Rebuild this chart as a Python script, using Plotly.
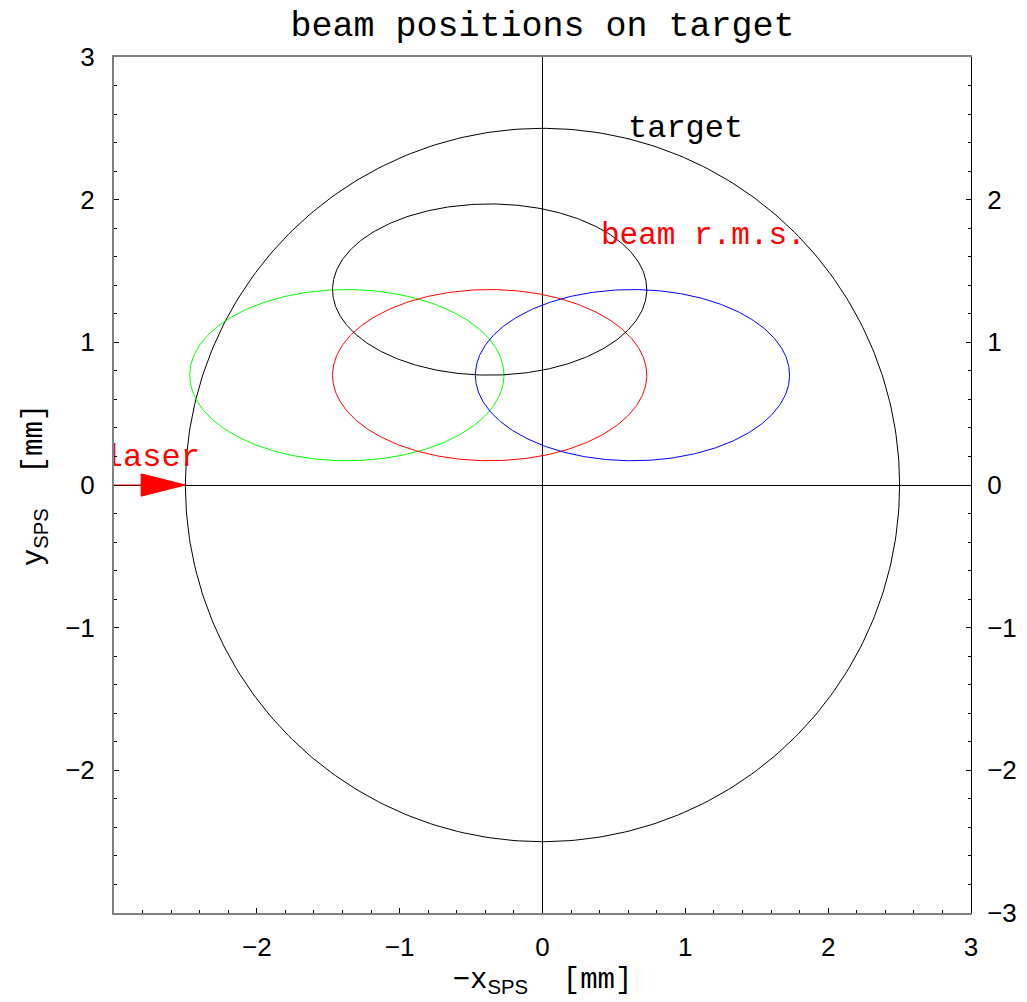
import numpy as np
import plotly.graph_objects as go

# ---- data ----
target_center = (0.0, 0.0)
target_radius = 2.5

beam_names = ["green", "red", "blue", "black"]
beam_cx = [-1.37, -0.37, 0.63, -0.37]
beam_cy = [0.77, 0.77, 0.77, 1.37]
beam_a = [1.1, 1.1, 1.1, 1.1]
beam_b = [0.6, 0.6, 0.6, 0.6]
beam_colors = ["#00ff00", "#ff0000", "#0000ff", "#000000"]

laser_tip = (-2.5, 0.0)
laser_start_x = -3.0
laser_head_len = 0.31
laser_head_half = 0.078

left_ticks = [3, 2, 1, 0, -1, -2]
right_ticks = [2, 1, 0, -1, -2, -3]
bottom_ticks = [-2, -1, 0, 1, 2, 3]

labels = [("target", 1.0, 2.5, "black", 32),
          ("beam r.m.s.", 1.13, 1.75, "red", 31)]
laser_label = ("laser", -2.735, 0.19)

def lab(v):
    return ("\u2212" + str(-v)) if v < 0 else str(v)

t = np.linspace(0, 2 * np.pi, 400)

fig = go.Figure()

# target circle
fig.add_trace(go.Scatter(
    x=target_center[0] + target_radius * np.cos(t),
    y=target_center[1] + target_radius * np.sin(t),
    mode="lines", line=dict(color="black", width=1), hoverinfo="skip"))

for cx, cy, a, b, c in zip(beam_cx, beam_cy, beam_a, beam_b, beam_colors):
    fig.add_trace(go.Scatter(
        x=cx + a * np.cos(t), y=cy + b * np.sin(t),
        mode="lines", line=dict(color=c, width=1), hoverinfo="skip"))

# laser line + head
fig.add_trace(go.Scatter(
    x=[laser_start_x, laser_tip[0]], y=[laser_tip[1], laser_tip[1]],
    mode="lines", line=dict(color="red", width=1), hoverinfo="skip"))
hx = laser_tip[0] - laser_head_len
fig.add_trace(go.Scatter(
    x=[hx, laser_tip[0], hx, hx],
    y=[laser_tip[1] + laser_head_half, laser_tip[1], laser_tip[1] - laser_head_half, laser_tip[1] + laser_head_half],
    mode="lines", fill="toself", fillcolor="red", line=dict(color="red", width=1),
    hoverinfo="skip"))

# laser text (clipped at plot area)
fig.add_trace(go.Scatter(
    x=[laser_label[1]], y=[laser_label[2]], mode="text", text=[laser_label[0]],
    textfont=dict(family="Liberation Mono", size=32, color="red"),
    cliponaxis=True, hoverinfo="skip"))

for txt, x, y, c, s in labels:
    fig.add_annotation(x=x, y=y, text=txt, showarrow=False,
                       font=dict(family="Liberation Mono", size=s, color=c),
                       xanchor="center", yanchor="middle")

tickfont = dict(family="Liberation Sans", size=26, color="black")
sub = "<sub><span style=\"font-family:'Liberation Sans'\">SPS</span></sub>"

fig.update_layout(
    width=1027, height=1002,
    margin=dict(l=114, r=56, t=57, b=89, autoexpand=False),
    plot_bgcolor="white", paper_bgcolor="white",
    showlegend=False,
    title=dict(text="beam positions on target", x=0.5, xref="paper", xanchor="center",
               y=1 - 24 / 1002, yref="container", yanchor="middle",
               font=dict(family="Liberation Mono", size=35, color="black")),
    xaxis=dict(range=[-3, 3], showgrid=False, zeroline=True, zerolinecolor="black",
               zerolinewidth=1, showline=True, linecolor="#808080", linewidth=2,
               mirror=True, ticks="inside", ticklen=5, tickcolor="black",
               tickvals=bottom_ticks, ticktext=[lab(v) for v in bottom_ticks],
               tickfont=tickfont, ticklabelstandoff=10, automargin=False,
               minor=dict(ticks="inside", ticklen=3, dtick=0.2, tickcolor="black", showgrid=False),
               title=dict(text="\u2212x" + sub + "  [mm]",
                          font=dict(family="Liberation Mono", size=29, color="black"), standoff=6)),
    yaxis=dict(range=[-3, 3], showgrid=False, zeroline=True, zerolinecolor="black",
               zerolinewidth=1, showline=True, linecolor="#808080", linewidth=2,
               ticks="inside", ticklen=5, tickcolor="black",
               tickvals=left_ticks, ticktext=[lab(v) for v in left_ticks],
               tickfont=tickfont, ticklabelstandoff=12, automargin=False,
               minor=dict(ticks="inside", ticklen=3, dtick=0.2, tickcolor="black", showgrid=False),
               title=dict(text="y" + sub + "  [mm]",
                          font=dict(family="Liberation Mono", size=29, color="black"), standoff=14)),
    yaxis2=dict(range=[-3, 3], overlaying="y", side="right", showgrid=False, zeroline=False,
                showline=True, linecolor="black", linewidth=1,
                ticks="inside", ticklen=5, tickcolor="black",
                tickvals=right_ticks, ticktext=[lab(v) for v in right_ticks],
                tickfont=tickfont, ticklabelstandoff=10, automargin=False,
                minor=dict(ticks="inside", ticklen=3, dtick=0.2, tickcolor="black", showgrid=False)),
)

# dummy trace to activate yaxis2
fig.add_trace(go.Scatter(x=[None], y=[None], yaxis="y2", hoverinfo="skip"))

fig.write_html("out.html", config={"displayModeBar": False},
               post_script="document.body.style.margin='0px';document.body.style.overflow='hidden';")
